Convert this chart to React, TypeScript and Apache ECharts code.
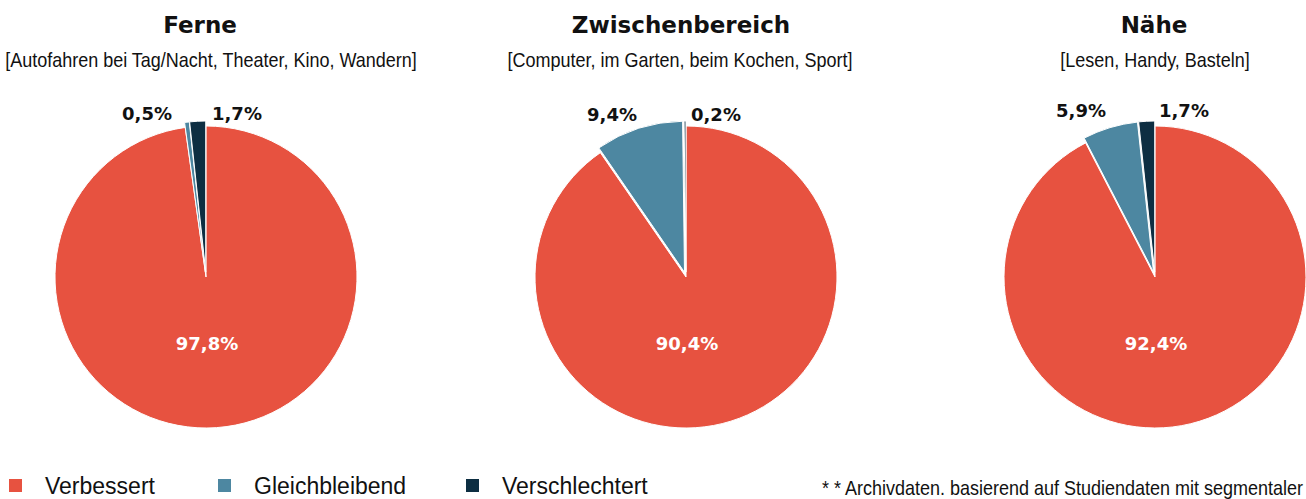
import React, { useEffect, useRef } from "react";
import * as echarts from "echarts";

const categories = ["Verbessert", "Gleichbleibend", "Verschlechtert"];
const pieTitles = ["Ferne", "Zwischenbereich", "Nähe"];
const pieSubtitles = [
  "[Autofahren bei Tag/Nacht, Theater, Kino, Wandern]",
  "[Computer, im Garten, beim Kochen, Sport]",
  "[Lesen, Handy, Basteln]",
];
const ferneValues = [97.8, 0.5, 1.7];
const zwischenValues = [90.4, 9.4, 0.2];
const naeheValues = [92.4, 5.9, 1.7];
const footnote = "* * Archivdaten. basierend auf Studiendaten mit segmentaler";

const colors = ["#E75240", "#4D87A1", "#0D2E42"];

// layout (pixels)
const centers = [206, 686, 1155];
const centerY = 277;
const radius = 151;
const titleX = [195, 676, 1149];
const subX = [211, 680, 1155];
const blueLabelOff = [-34, -49, -49];
const darkLabelOff = [6, 5, 4];
const smallLabelY = [113, 114, 110];
const legendLeft = [7, 216, 464];

const NUM_FONT = "'DejaVu Sans', sans-serif";
const TEXT_FONT = "'Liberation Sans', Arial, sans-serif";

export default function App() {
  const ref = useRef<HTMLDivElement>(null);
  useEffect(() => {
    document.body.style.margin = "0";
    const chart = echarts.init(ref.current!, undefined, { renderer: "svg" });
    const allValues = [ferneValues, zwischenValues, naeheValues];
    const fmt = (v: number) => `${v.toFixed(1).replace(".", ",")}%`;

    const pieSeries = allValues.map((vals, si) => ({
      type: "pie",
      name: pieTitles[si],
      center: [centers[si], centerY],
      radius: [0, radius],
      startAngle: 90,
      clockwise: true,
      selectedMode: "multiple",
      selectedOffset: 5,
      silent: true,
      emphasis: { disabled: true },
      itemStyle: { borderColor: "#ffffff", borderWidth: 1 },
      label: { show: false },
      labelLine: { show: false },
      data: vals.map((v, i) => ({
        name: categories[i],
        value: v,
        selected: i > 0,
        itemStyle: { color: colors[i] },
        select: { itemStyle: { color: colors[i], borderColor: "#ffffff", borderWidth: 1 } },
      })),
    }));

    const labelSeries = allValues.map((vals, si) => ({
      type: "pie",
      name: pieTitles[si] + " labels",
      center: [centers[si], centerY],
      radius: [0, radius],
      startAngle: 90,
      clockwise: true,
      selectedMode: false,
      silent: true,
      legendHoverLink: false,
      emphasis: { disabled: true },
      itemStyle: { color: "rgba(0,0,0,0)", borderWidth: 0 },
      label: {
        show: true,
        position: "inside",
        formatter: (p: any) => fmt(p.value),
        fontFamily: NUM_FONT,
        fontWeight: "bold",
        fontSize: 18,
      },
      labelLine: { show: false },
      labelLayout: (p: any) => {
        const cx = centers[si];
        if (p.dataIndex === 0) {
          return { x: cx + 1, y: centerY + 66, align: "center", verticalAlign: "middle" };
        }
        if (p.dataIndex === 1) {
          return { x: cx + blueLabelOff[si], y: smallLabelY[si], align: "right", verticalAlign: "middle" };
        }
        return { x: cx + darkLabelOff[si], y: smallLabelY[si], align: "left", verticalAlign: "middle" };
      },
      data: vals.map((v, i) => ({
        name: categories[i],
        value: v,
        itemStyle: { color: "rgba(0,0,0,0)" },
        label: { color: i === 0 ? "#ffffff" : "#111111" },
      })),
    }));

    const titles: any[] = pieTitles.map((t, i) => ({
      text: t,
      left: titleX[i],
      top: 8,
      textAlign: "center",
      textStyle: { fontFamily: NUM_FONT, fontWeight: "bold", fontSize: 23, color: "#111111" },
    }));

    const legends = categories.map((c, i) => ({
      data: [c],
      left: legendLeft[i],
      top: 474,
      padding: 0,
      icon: "rect",
      itemWidth: 15,
      itemHeight: 15,
      selectedMode: false,
      textStyle: {
        fontFamily: TEXT_FONT,
        fontSize: 23,
        color: "#111111",
        padding: [0, 0, 0, 17],
      },
    }));

    const graphics: any[] = pieSubtitles.map((s, i) => ({
      type: "text",
      x: subX[i],
      y: 60,
      scaleX: 0.9,
      style: {
        text: s,
        fontFamily: TEXT_FONT,
        fontSize: 20,
        fill: "#111111",
        align: "center",
        verticalAlign: "middle",
      },
    }));
    graphics.push({
      type: "text",
      x: 822,
      y: 488,
      scaleX: 0.9,
      style: {
        text: footnote,
        fontFamily: TEXT_FONT,
        fontSize: 20,
        fill: "#111111",
        align: "left",
        verticalAlign: "middle",
      },
    });

    chart.setOption({
      animation: false,
      color: colors,
      title: titles,
      legend: legends,
      series: [...pieSeries, ...labelSeries],
      graphic: graphics,
    });
    return () => chart.dispose();
  }, []);
  return <div ref={ref} style={{ width: 1306, height: 499 }} />;
}
